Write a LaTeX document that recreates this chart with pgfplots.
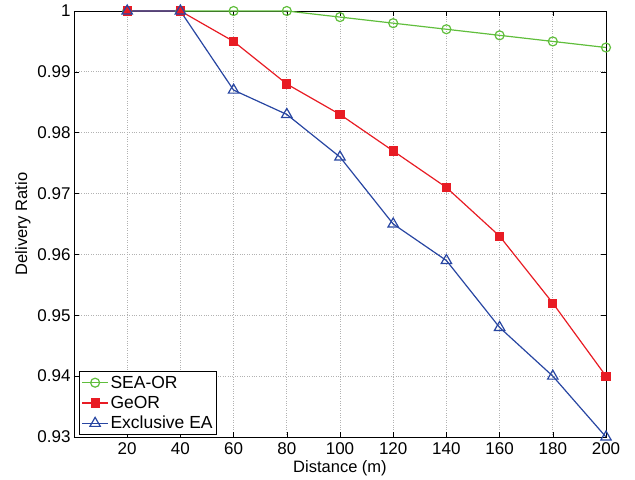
\documentclass[border=0pt]{standalone}
\usepackage{fontspec}
\setmainfont{Liberation Sans}
\usepackage{pgfplots}
\pgfplotsset{compat=1.18}
\definecolor{cgreen}{RGB}{96,190,60}
\definecolor{cred}{RGB}{232,28,36}
\definecolor{cblue}{RGB}{40,70,162}
\begin{document}
\begin{tikzpicture}
\begin{axis}[
    name=ax,
    scale only axis,
    width=532pt, height=426pt,
    xmin=0, xmax=200,
    ymin=0.93, ymax=1,
    xtick={20,40,...,200},
    ytick={0.93,0.94,0.95,0.96,0.97,0.98,0.99,1},
    yticklabels={0.93,0.94,0.95,0.96,0.97,0.98,0.99,1},
    /pgf/number format/assume math mode=true,
    tick align=inside,
    major tick length=5pt,
    xtick pos=both, ytick pos=both,
    grid=major,
    major grid style={gray!60, dotted, line width=0.7pt},
    axis line style={line width=0.8pt},
    every tick/.style={black, line width=0.6pt},
    ticklabel style={font=\fontsize{17}{19}\selectfont},
    xticklabel style={yshift=-2pt},
    label style={font=\fontsize{16.5}{19}\selectfont},
    xlabel={Distance (m)},
    ylabel={Delivery Ratio},
    xlabel style={yshift=1pt},
    legend style={at={(0.01,0.005)}, anchor=south west, draw=black, line width=0.8pt,
        font=\fontsize{17.5}{19}\selectfont, inner sep=2pt, row sep=2.5pt},
    legend image code/.code={%
        \draw[mark repeat=2,mark phase=2] plot coordinates {(0cm,0cm) (0.45cm,0cm) (0.9cm,0cm)};},
    legend cell align=left,
]
\addplot[cgreen, line width=1.2pt, mark=o, mark size=4.5pt, mark options={line width=1.2pt}] coordinates {
    (20,1) (40,1) (60,1) (80,1) (100,0.999) (120,0.998) (140,0.997) (160,0.996) (180,0.995) (200,0.994)
};
\addlegendentry{SEA-OR}
\addplot[cred, line width=1.2pt, mark=square*, mark size=4pt] coordinates {
    (20,1) (40,1) (60,0.995) (80,0.988) (100,0.983) (120,0.977) (140,0.971) (160,0.963) (180,0.952) (200,0.940)
};
\addlegendentry{GeOR}
\addplot[cblue, line width=1.2pt, mark=triangle, mark size=6pt, mark options={line width=1.2pt}] coordinates {
    (20,1) (40,1) (60,0.987) (80,0.983) (100,0.976) (120,0.965) (140,0.959) (160,0.948) (180,0.940) (200,0.930)
};
\addlegendentry{Exclusive EA}
\end{axis}
\pgfresetboundingbox
\path[use as bounding box] ([shift={(-74pt,-43pt)}]ax.south west) rectangle ([shift={(29pt,11pt)}]ax.north east);
\end{tikzpicture}
\end{document}
